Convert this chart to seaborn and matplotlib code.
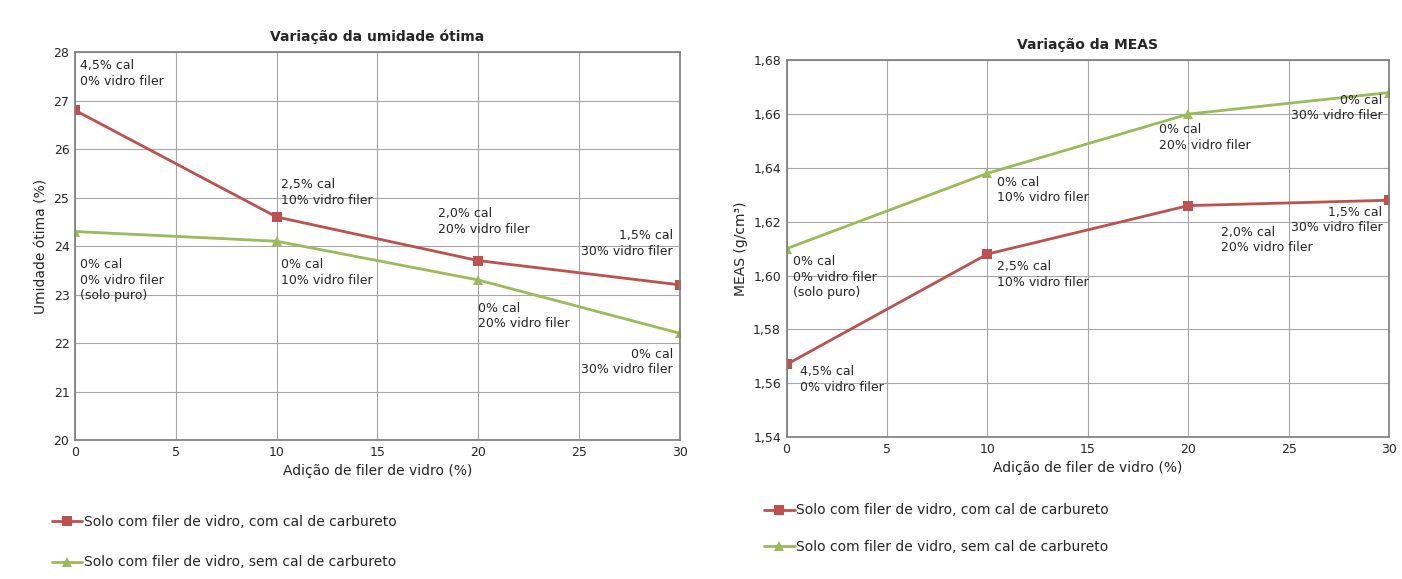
import matplotlib
matplotlib.use("Agg")
import matplotlib.pyplot as plt
import seaborn as sns
import pandas as pd
from matplotlib.ticker import FuncFormatter
from matplotlib.lines import Line2D

adicao = [0, 10, 20, 30]
umid_com_cal = [26.8, 24.6, 23.7, 23.2]
umid_sem_cal = [24.3, 24.1, 23.3, 22.2]
meas_com_cal = [1.567, 1.608, 1.626, 1.628]
meas_sem_cal = [1.610, 1.638, 1.660, 1.668]

serie_com = "Solo com filer de vidro, com cal de carbureto"
serie_sem = "Solo com filer de vidro, sem cal de carbureto"
RED, GREEN = "#c0504d", "#9bbb59"

sns.set_theme(style="white")
plt.rcParams['font.family'] = ['DejaVu Sans']

fig = plt.figure(figsize=(14.02, 5.79), dpi=100)
ax1 = fig.add_axes([0.0535, 0.240, 0.4315, 0.670])
ax2 = fig.add_axes([0.561, 0.245, 0.430, 0.651])


def draw(ax, com, sem, title, ylabel, ylim, yticks, fmt):
    df = pd.DataFrame({"x": adicao * 2, "y": com + sem,
                       "serie": [serie_com] * 4 + [serie_sem] * 4})
    sns.lineplot(data=df, x="x", y="y", hue="serie", style="serie",
                 markers={serie_com: "s", serie_sem: "^"}, dashes=False,
                 palette={serie_com: RED, serie_sem: GREEN},
                 linewidth=2, markersize=7, markeredgewidth=0, ax=ax, legend=False)
    ax.set_xlim(0, 30)
    ax.set_ylim(*ylim)
    ax.set_xticks([0, 5, 10, 15, 20, 25, 30])
    ax.set_yticks(yticks)
    ax.yaxis.set_major_formatter(FuncFormatter(fmt))
    ax.grid(True, color="#a6a6a6", linewidth=0.8)
    for s in ax.spines.values():
        s.set_color("#808080")
    ax.tick_params(labelsize=9, length=0, pad=4)
    ax.set_title(title, fontsize=10, fontweight="bold", pad=8)
    ax.set_xlabel("Adição de filer de vidro (%)", fontsize=10)
    ax.set_ylabel(ylabel, fontsize=10)


draw(ax1, umid_com_cal, umid_sem_cal, "Variação da umidade ótima",
     "Umidade ótima (%)", (20, 28), range(20, 29), lambda v, p: f"{v:.0f}")
draw(ax2, meas_com_cal, meas_sem_cal, "Variação da MEAS",
     "MEAS (g/cm³)", (1.54, 1.68), [1.54 + 0.02 * i for i in range(8)],
     lambda v, p: f"{v:.2f}".replace(".", ","))

notas1 = [
    (0.25, 27.85, "4,5% cal\n0% vidro filer", "left"),
    (10.2, 25.4, "2,5% cal\n10% vidro filer", "left"),
    (18.0, 24.8, "2,0% cal\n20% vidro filer", "left"),
    (29.65, 24.35, "1,5% cal\n30% vidro filer", "right"),
    (0.25, 23.75, "0% cal\n0% vidro filer\n(solo puro)", "left"),
    (10.2, 23.75, "0% cal\n10% vidro filer", "left"),
    (20.0, 22.85, "0% cal\n20% vidro filer", "left"),
    (29.65, 21.9, "0% cal\n30% vidro filer", "right"),
]
notas2 = [
    (29.65, 1.6675, "0% cal\n30% vidro filer", "right"),
    (18.56, 1.6565, "0% cal\n20% vidro filer", "left"),
    (10.45, 1.637, "0% cal\n10% vidro filer", "left"),
    (29.65, 1.626, "1,5% cal\n30% vidro filer", "right"),
    (21.6, 1.6185, "2,0% cal\n20% vidro filer", "left"),
    (0.3, 1.6076, "0% cal\n0% vidro filer\n(solo puro)", "left"),
    (10.45, 1.6057, "2,5% cal\n10% vidro filer", "left"),
    (0.65, 1.5667, "4,5% cal\n0% vidro filer", "left"),
]
for ax, notas in ((ax1, notas1), (ax2, notas2)):
    for x, y, t, ha in notas:
        ax.text(x, y, t, ha=ha, va="top", fontsize=9, linespacing=1.25)

h = [Line2D([], [], color=RED, marker="s", lw=2, ms=7, mew=0),
     Line2D([], [], color=GREEN, marker="^", lw=2, ms=7, mew=0)]
for x0, y0, gap in ((0.033, 0.09, 1.9), (0.541, 0.11, 1.6)):
    fig.legend(h, [serie_com, serie_sem], loc="upper left", bbox_to_anchor=(x0, y0 + 0.03),
               frameon=False, fontsize=10, handlelength=2.2, handletextpad=0.1,
               labelspacing=gap, borderaxespad=0)

fig.savefig("out.png", dpi=100, facecolor="white")
